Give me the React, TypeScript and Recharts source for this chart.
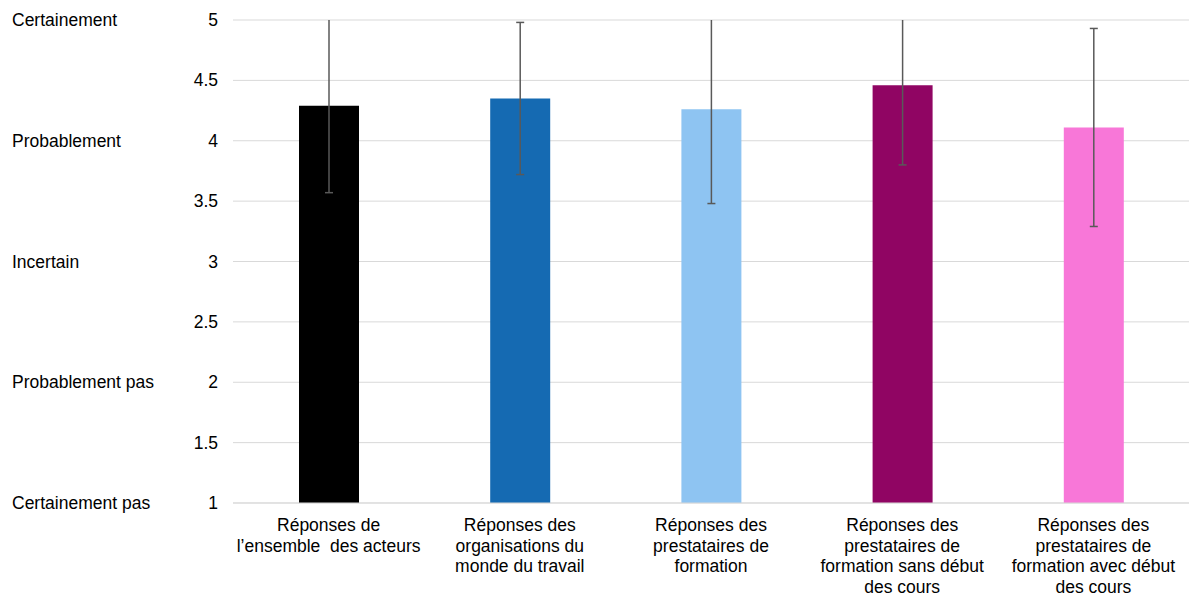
import { BarChart, Bar, XAxis, YAxis, CartesianGrid, Cell, ErrorBar } from 'recharts';

const categories = [
  'Réponses de\nl’ensemble  des acteurs',
  'Réponses des\norganisations du\nmonde du travail',
  'Réponses des\nprestataires de\nformation',
  'Réponses des\nprestataires de\nformation sans début\ndes cours',
  'Réponses des\nprestataires de\nformation avec début\ndes cours',
];
const means = [4.29, 4.35, 4.26, 4.46, 4.11];
const deviations = [0.72, 0.63, 0.78, 0.66, 0.82];
const colors = ['#000000', '#156AB2', '#8EC4F2', '#900563', '#F877D8'];
const yTicks = [1, 1.5, 2, 2.5, 3, 3.5, 4, 4.5, 5];
const scaleLabels: Record<number, string> = {
  1: 'Certainement pas',
  2: 'Probablement pas',
  3: 'Incertain',
  4: 'Probablement',
  5: 'Certainement',
};

const data = categories.map((name, i) => ({ name, value: means[i], err: deviations[i] }));

const FONT = 'Liberation Sans, Arial, sans-serif';
const FS = 17.5;

const YTick = ({ y, payload }: any) => {
  const label = scaleLabels[payload.value];
  return (
    <g>
      {label && (
        <text x={12} y={y} dy={6} fontSize={FS} fontFamily={FONT} fill="#000" textAnchor="start">
          {label}
        </text>
      )}
      <text x={218} y={y} dy={6} fontSize={FS} fontFamily={FONT} fill="#000" textAnchor="end">
        {payload.value}
      </text>
    </g>
  );
};

const XTick = ({ x, y, payload }: any) => {
  const lines = String(payload.value).split('\n');
  return (
    <text x={x} y={y} fontSize={FS} fontFamily={FONT} fill="#000" textAnchor="middle">
      {lines.map((line, i) => (
        <tspan key={i} x={x} dy={i === 0 ? 20 : 20.7} style={{ whiteSpace: 'pre' }}>
          {line}
        </tspan>
      ))}
    </text>
  );
};

export default function App() {
  return (
    <div style={{ position: 'absolute', left: 0, top: 0 }}>
      <svg width={0} height={0} style={{ position: 'absolute' }}>
        <defs>
          <clipPath id="plotClip" clipPathUnits="userSpaceOnUse">
            <rect x={0} y={20} width={1189} height={579} />
          </clipPath>
        </defs>
      </svg>
      <BarChart width={1189} height={599} data={data} margin={{ top: 20, right: 0, bottom: 0, left: 0 }}>
        <CartesianGrid vertical={false} stroke="#d9d9d9" strokeWidth={1} />
        <XAxis
          dataKey="name"
          interval={0}
          axisLine={{ stroke: '#d9d9d9' }}
          tickLine={false}
          tick={<XTick />}
          height={96}
        />
        <YAxis
          domain={[1, 5]}
          ticks={yTicks}
          allowDataOverflow
          width={233}
          axisLine={false}
          tickLine={false}
          tick={<YTick />}
        />
        <Bar dataKey="value" barSize={60} isAnimationActive={false}>
          {data.map((entry, index) => (
            <Cell key={`cell-${index}`} fill={colors[index]} />
          ))}
          <ErrorBar
            dataKey="err"
            width={4}
            stroke="#595959"
            strokeWidth={1.5}
            clipPath="url(#plotClip)"
            isAnimationActive={false}
          />
        </Bar>
      </BarChart>
    </div>
  );
}
